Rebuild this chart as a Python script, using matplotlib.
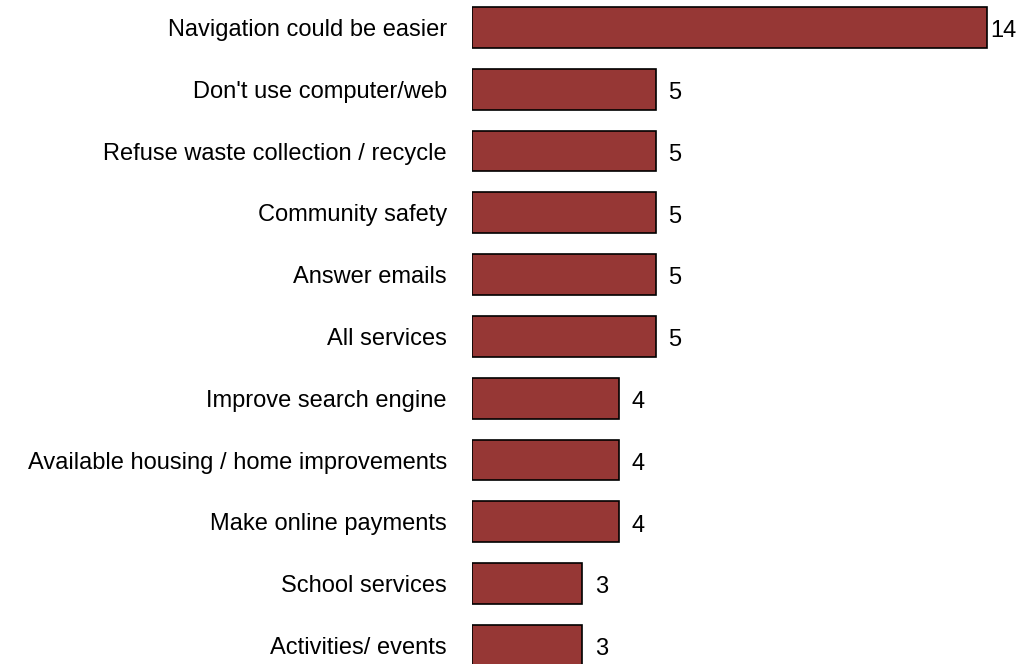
import matplotlib
matplotlib.use("Agg")
import matplotlib.pyplot as plt

plt.rcParams['font.family'] = ['Liberation Sans', 'DejaVu Sans']

categories = [
    "Navigation could be easier",
    "Don't use computer/web",
    "Refuse waste collection / recycle",
    "Community safety",
    "Answer emails",
    "All services",
    "Improve search engine",
    "Available housing / home improvements",
    "Make online payments",
    "School services",
    "Activities/ events",
]
counts = [14, 5, 5, 5, 5, 5, 4, 4, 4, 3, 3]

bar_color = "#963735"

fig = plt.figure(figsize=(10.24, 6.64), dpi=100)
ax = fig.add_axes([472 / 1024, 0, 552 / 1024, 1])

ypos = list(range(len(categories)))
ax.barh(ypos, counts, height=0.66, color=bar_color, edgecolor="black", linewidth=1.2)

ax.set_xlim(0, 552 / 36.8)
ax.set_ylim(10.3, -0.445)

ax.set_yticks(ypos)
ax.set_yticklabels(categories, fontsize=17)
ax.tick_params(axis="y", length=0, pad=18)
ax.set_xticks([])
for s in ax.spines.values():
    s.set_visible(False)

# value labels; the longest bar gets its number tucked in against the end
for y, v in zip(ypos, counts):
    off = 2 if v == max(counts) else 9
    ax.annotate(str(v), (v, y), xytext=(off, -7), textcoords="offset points",
                va="baseline", ha="left", fontsize=17)

fig.savefig("out.png", dpi=100)
